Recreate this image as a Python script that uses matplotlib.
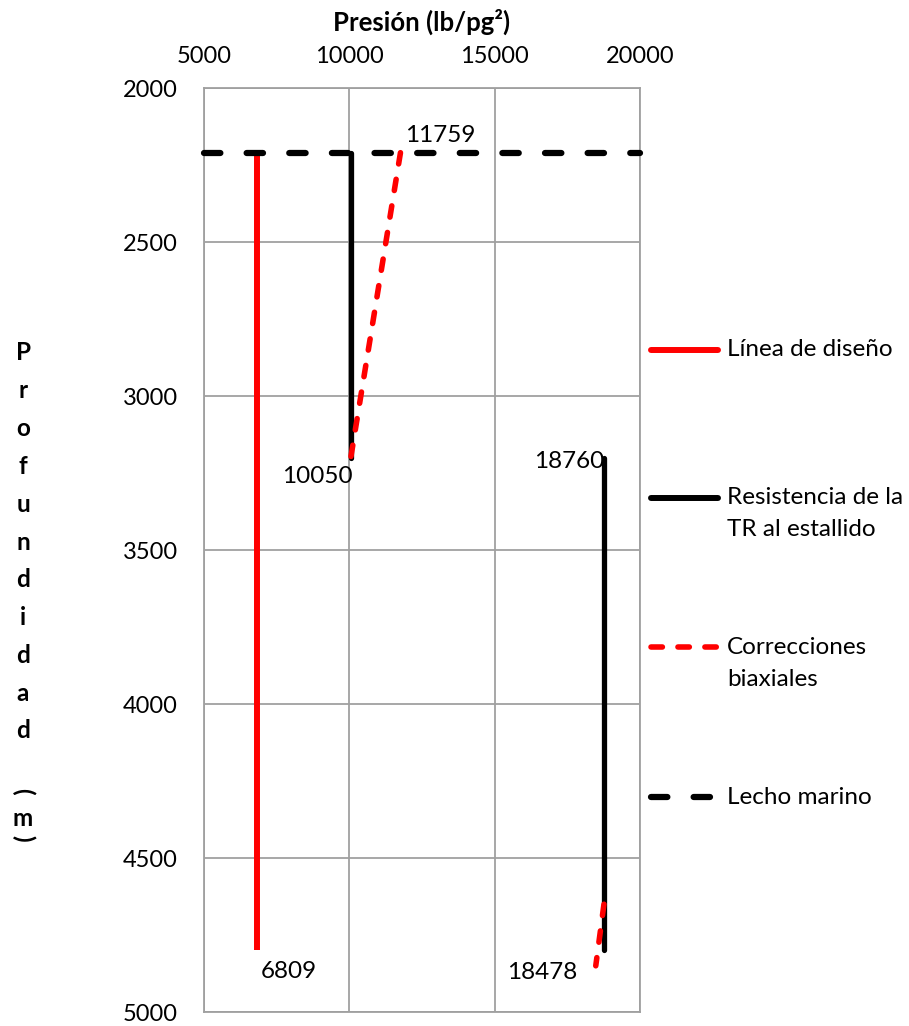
import matplotlib.pyplot as plt
from matplotlib.lines import Line2D

plt.rcParams['font.family'] = ['Lato', 'DejaVu Sans']

# data (presion lb/pg2, profundidad m)
lecho_x = [5000, 20000]
lecho_y = [2210, 2210]

diseno_x = [6809, 6809]
diseno_y = [2210, 4800]

resist1_x = [10050, 10050]
resist1_y = [2210, 3200]
resist2_x = [18760, 18760]
resist2_y = [3200, 4800]

biax1_x = [11759, 10050]
biax1_y = [2210, 3200]
biax2_x = [18760, 18478]
biax2_y = [4650, 4850]

x_ticks = [5000, 10000, 15000, 20000]
y_ticks = [2000, 2500, 3000, 3500, 4000, 4500, 5000]

W, H = 909, 1026
fig = plt.figure(figsize=(W / 100, H / 100), dpi=100)
ax = fig.add_axes([204 / W, 1 - 1012 / H, 436 / W, 924 / H])

fs = 17.5
red = '#FF0000'
red_dash = (2.05, 2.8)
black_dash = (2.62, 4.2)

ax.plot(diseno_x, diseno_y, color=red, lw=4.3, solid_capstyle='butt', zorder=3)
ax.plot(resist1_x, resist1_y, color='black', lw=3.8, solid_capstyle='round', zorder=3)
ax.plot(resist2_x, resist2_y, color='black', lw=3.8, solid_capstyle='round', zorder=3)
for bx, by in ((biax1_x, biax1_y), (biax2_x, biax2_y)):
    ax.plot(bx, by, color=red, lw=4, dashes=red_dash,
            dash_capstyle='round', zorder=4)
ax.plot(lecho_x, lecho_y, color='black', lw=4.5, dashes=black_dash,
        dash_capstyle='round', zorder=5, clip_on=False)

# value labels
def label(txt, x, y, dx, dy, ha, va):
    ax.annotate(txt, (x, y), xytext=(dx, dy), textcoords='offset points',
                ha=ha, va=va, fontsize=fs, zorder=6)

label('11759', biax1_x[0], biax1_y[0], 3, 5, 'left', 'bottom')
label('10050', resist1_x[0], resist1_y[1], 1, -6, 'right', 'top')
label('18760', resist2_x[0], resist2_y[0], 0, -3, 'right', 'center')
label('6809', diseno_x[0], diseno_y[1], 3, -15, 'left', 'center')
label('18478', biax2_x[1], biax2_y[1], -13, -5, 'right', 'center')

ax.set_xlim(5000, 20000)
ax.set_ylim(5000, 2000)
ax.set_xticks(x_ticks)
ax.set_yticks(y_ticks)
ax.xaxis.tick_top()
ax.xaxis.set_label_position('top')
ax.tick_params(length=0, labelsize=17)
ax.tick_params(axis='x', pad=15)
ax.tick_params(axis='y', pad=19)
ax.set_xlabel('Presión (lb/pg²)', fontsize=18.5, fontweight='bold', labelpad=11)
ax.grid(True, color='#A0A0A0', lw=1.3)
for s in ax.spines.values():
    s.set_color('#A0A0A0')
    s.set_linewidth(1.3)

# vertical stacked y label, parentheses turned sideways
ylab = list('Profundidad') + ['(', 'm', ')']
ypos = [353 + i * 37.8 for i in range(11)] + [791, 818, 838]
for ch, py in zip(ylab, ypos):
    rot = -90 if ch in '()' else 0
    fig.text(23 / W, 1 - py / H, ch, ha='center', va='center', fontsize=fs,
             fontweight='bold', rotation=rot)

# legend
def leg_line(y, **kw):
    fig.add_artist(Line2D([651 / W, 718 / W], [1 - y / H, 1 - y / H],
                          transform=fig.transFigure, **kw))

leg_line(350, color=red, lw=4.3, solid_capstyle='round')
leg_line(498, color='black', lw=4.3, solid_capstyle='round')
leg_line(647, color=red, lw=4, dashes=red_dash, dash_capstyle='round')
leg_line(797, color='black', lw=4.5, dashes=black_dash, dash_capstyle='round')

legend_rows = [(350, 'Línea de diseño'), (498, 'Resistencia de la'),
               (530, 'TR al estallido'), (647, 'Correcciones'),
               (679, 'biaxiales'), (797, 'Lecho marino')]
for y, t in legend_rows:
    fig.text(727 / W, 1 - y / H, t, ha='left', va='center', fontsize=fs)

fig.savefig('out.png', dpi=100)
